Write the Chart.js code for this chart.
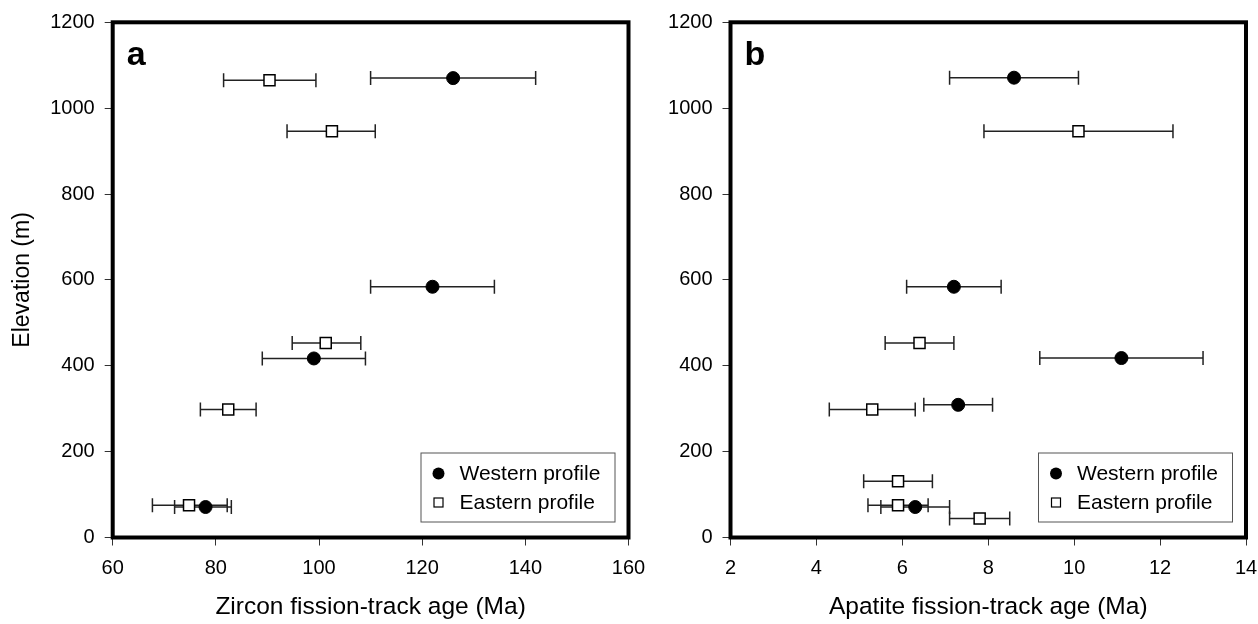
<!DOCTYPE html>
<html>
<head>
<meta charset="utf-8">
<title>Fission-track age vs elevation</title>
<script src="https://cdn.jsdelivr.net/npm/chart.js@4.4.0/dist/chart.umd.min.js"></script>
<style>
    html, body { margin: 0; padding: 0; background: #fff; }
    #wrap { position: relative; width: 1258px; height: 624px; }
    #panelA { position: absolute; left: 0; top: 0; }
    #panelB { position: absolute; left: 640px; top: 0; }
</style>
</head>
<body>
<div id="wrap">
    <canvas id="panelA" width="680" height="624"></canvas>
    <canvas id="panelB" width="618" height="624"></canvas>
</div>
<script>
// Panel a - zircon fission-track ages
const zirconWestAge = [126, 122, 99, 78];
const zirconWestElev = [1070, 584, 417, 71];
const zirconWestMin = [110, 110, 89, 72];
const zirconWestMax = [142, 134, 109, 83];

const zirconEastAge = [90.4, 102.5, 101.3, 82.4, 74.8];
const zirconEastElev = [1065, 946, 453, 298, 75];
const zirconEastMin = [81.5, 93.8, 94.8, 77, 67.7];
const zirconEastMax = [99.4, 110.9, 108.1, 87.8, 82.2];

// Panel b - apatite fission-track ages
const apatiteWestAge = [8.6, 7.2, 11.1, 7.3, 6.3];
const apatiteWestElev = [1071, 584, 418, 309, 71];
const apatiteWestMin = [7.1, 6.1, 9.2, 6.5, 5.5];
const apatiteWestMax = [10.1, 8.3, 13.0, 8.1, 7.1];

const apatiteEastAge = [10.1, 6.4, 5.3, 5.9, 5.9, 7.8];
const apatiteEastElev = [946, 453, 298, 131, 75, 44];
const apatiteEastMin = [7.9, 5.6, 4.3, 5.1, 5.2, 7.1];
const apatiteEastMax = [12.3, 7.2, 6.3, 6.7, 6.6, 8.5];

const seriesNames = ['Western profile', 'Eastern profile'];
const FONT = "'Liberation Sans', Arial, sans-serif";

function toPoints(xs, ys) {
    return xs.map((x, i) => ({ x: x, y: ys[i] }));
}

// Horizontal error bars with end caps, drawn under the markers
const errorBarPlugin = {
    id: 'errorBars',
    beforeDatasetsDraw(chart) {
        const ctx = chart.ctx;
        const xs = chart.scales.x;
        const ys = chart.scales.y;
        ctx.save();
        ctx.strokeStyle = '#222';
        ctx.lineWidth = 1.5;
        chart.data.datasets.forEach(ds => {
            ds.data.forEach((p, i) => {
                const y = ys.getPixelForValue(p.y);
                const x1 = xs.getPixelForValue(ds.errMin[i]);
                const x2 = xs.getPixelForValue(ds.errMax[i]);
                ctx.beginPath();
                ctx.moveTo(x1, y);
                ctx.lineTo(x2, y);
                ctx.moveTo(x1, y - 7);
                ctx.lineTo(x1, y + 7);
                ctx.moveTo(x2, y - 7);
                ctx.lineTo(x2, y + 7);
                ctx.stroke();
            });
        });
        ctx.restore();
    }
};

// Thick frame, panel letter and the boxed legend
const framePlugin = {
    id: 'frame',
    afterDraw(chart, args, opts) {
        const ctx = chart.ctx;
        const a = chart.chartArea;
        ctx.save();
        ctx.strokeStyle = '#000';
        ctx.lineWidth = 4;
        ctx.strokeRect(a.left, a.top, a.right - a.left, a.bottom - a.top);

        ctx.fillStyle = '#000';
        ctx.font = 'bold 34px ' + FONT;
        ctx.textAlign = 'left';
        ctx.textBaseline = 'alphabetic';
        ctx.fillText(opts.letter, a.left + 14, a.top + 43);

        // legend box
        const bw = 194, bh = 69;
        const bx = a.right - 14 - bw;
        const by = a.bottom - 16 - bh;
        ctx.fillStyle = '#fff';
        ctx.fillRect(bx, by, bw, bh);
        ctx.strokeStyle = '#555';
        ctx.lineWidth = 1;
        ctx.strokeRect(bx + 0.5, by + 0.5, bw, bh);

        const row1 = by + 21;
        const row2 = by + 50;
        ctx.fillStyle = '#000';
        ctx.beginPath();
        ctx.arc(bx + 18, row1, 6, 0, Math.PI * 2);
        ctx.fill();
        ctx.fillStyle = '#fff';
        ctx.fillRect(bx + 13.5, row2 - 4.5, 9, 9);
        ctx.strokeStyle = '#000';
        ctx.lineWidth = 1.2;
        ctx.strokeRect(bx + 13.5, row2 - 4.5, 9, 9);

        ctx.fillStyle = '#000';
        ctx.font = '21px ' + FONT;
        ctx.textBaseline = 'middle';
        ctx.fillText(seriesNames[0], bx + 39, row1 + 1);
        ctx.fillText(seriesNames[1], bx + 39, row2 + 1);
        ctx.restore();
    }
};

function makePanel(canvasId, cfg) {
    const ctx = document.getElementById(canvasId).getContext('2d');
    return new Chart(ctx, {
        type: 'scatter',
        data: {
            datasets: [{
                label: seriesNames[0],
                data: toPoints(cfg.westAge, cfg.westElev),
                errMin: cfg.westMin,
                errMax: cfg.westMax,
                pointStyle: 'circle',
                pointRadius: 6.5,
                backgroundColor: '#000',
                borderColor: '#000',
                borderWidth: 1
            }, {
                label: seriesNames[1],
                data: toPoints(cfg.eastAge, cfg.eastElev),
                errMin: cfg.eastMin,
                errMax: cfg.eastMax,
                pointStyle: 'rect',
                pointRadius: 7.8,
                backgroundColor: '#fff',
                borderColor: '#000',
                borderWidth: 1.5
            }]
        },
        options: {
            responsive: false,
            animation: false,
            layout: { padding: { top: 22.3, right: cfg.padRight, left: 0, bottom: 0 } },
            plugins: {
                legend: { display: false },
                tooltip: { enabled: false },
                frame: { letter: cfg.letter }
            },
            scales: {
                x: {
                    type: 'linear',
                    min: cfg.xMin,
                    max: cfg.xMax,
                    afterFit: s => {
                        s.height = 86.5;
                        s.paddingLeft = 0;
                        s.paddingRight = 0;
                    },
                    ticks: {
                        stepSize: cfg.xStep,
                        color: '#000',
                        padding: 11,
                        font: { family: FONT, size: 20 },
                        callback: v => String(v)
                    },
                    grid: { drawOnChartArea: false, drawTicks: true, tickLength: 8, color: '#333' },
                    border: { display: false },
                    title: {
                        display: true,
                        text: cfg.xTitle,
                        color: '#000',
                        padding: { top: 0, bottom: 4.5 },
                        font: { family: FONT, size: 24.5, lineHeight: 1 }
                    }
                },
                y: {
                    type: 'linear',
                    min: 0,
                    max: 1200,
                    afterFit: s => {
                        s.width = cfg.axisWidth;
                        s.paddingTop = 0;
                        s.paddingBottom = 0;
                    },
                    ticks: {
                        stepSize: 200,
                        color: '#000',
                        padding: 10,
                        font: { family: FONT, size: 20 },
                        callback: v => String(v)
                    },
                    grid: { drawOnChartArea: false, drawTicks: true, tickLength: 8, color: '#333' },
                    border: { display: false },
                    title: {
                        display: cfg.yTitle !== '',
                        text: cfg.yTitle,
                        color: '#000',
                        padding: { top: 11, bottom: 0 },
                        font: { family: FONT, size: 23, lineHeight: 1 }
                    }
                }
            }
        },
        plugins: [errorBarPlugin, framePlugin]
    });
}

makePanel('panelA', {
    letter: 'a',
    westAge: zirconWestAge, westElev: zirconWestElev, westMin: zirconWestMin, westMax: zirconWestMax,
    eastAge: zirconEastAge, eastElev: zirconEastElev, eastMin: zirconEastMin, eastMax: zirconEastMax,
    xMin: 60, xMax: 160, xStep: 20,
    xTitle: 'Zircon fission-track age (Ma)',
    yTitle: 'Elevation (m)',
    axisWidth: 112.7,
    padRight: 51.5
});

makePanel('panelB', {
    letter: 'b',
    westAge: apatiteWestAge, westElev: apatiteWestElev, westMin: apatiteWestMin, westMax: apatiteWestMax,
    eastAge: apatiteEastAge, eastElev: apatiteEastElev, eastMin: apatiteEastMin, eastMax: apatiteEastMax,
    xMin: 2, xMax: 14, xStep: 2,
    xTitle: 'Apatite fission-track age (Ma)',
    yTitle: '',
    axisWidth: 90.5,
    padRight: 12
});
</script>
</body>
</html>
